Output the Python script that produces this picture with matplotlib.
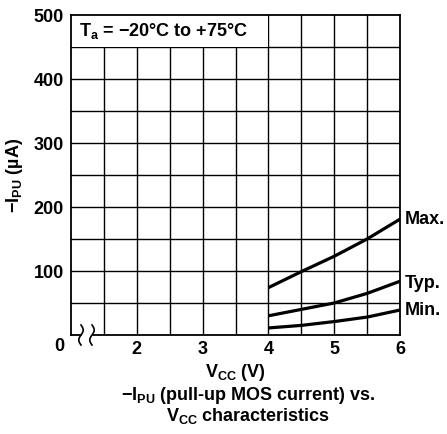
import matplotlib
matplotlib.use("Agg")
import matplotlib.pyplot as plt
import numpy as np

plt.rcParams['font.family'] = ['Liberation Sans', 'DejaVu Sans']
plt.rcParams['mathtext.fontset'] = 'custom'
plt.rcParams['mathtext.rm'] = 'Liberation Sans'
plt.rcParams['mathtext.bf'] = 'Liberation Sans:bold'

# Data
vcc = [4.0, 4.5, 5.0, 5.5, 6.0]
i_max = [74, 99, 123, 150, 181]
i_typ = [30, 40, 50, 65, 84]
i_min = [11, 15, 21, 28, 39]
curve_names = ["Max.", "Typ.", "Min."]
label_vals = [180, 81, 39]
xticks = [2, 3, 4, 5, 6]
yticks = [100, 200, 300, 400, 500]

FS = 13

fig = plt.figure(figsize=(4.47, 4.34), dpi=100)
ax = fig.add_axes([71/447, 1-335/434, 329/447, 320/434])
ax.set_xlim(1, 6)
ax.set_ylim(0, 500)

# grid
for x in np.arange(1.5, 6.0, 0.5):
    ax.axvline(x, color='black', lw=1.0, zorder=1)
for y in np.arange(50, 500, 50):
    ax.axhline(y, color='black', lw=1.0, zorder=1)

for s in ax.spines.values():
    s.set_linewidth(1.3)
    s.set_zorder(4)

for ys, name, lv in zip([i_max, i_typ, i_min], curve_names, label_vals):
    ax.plot(vcc, ys, color='black', lw=2.3, zorder=3, solid_capstyle='butt')
    ax.text(6.07, lv, name, fontsize=FS, fontweight='bold', va='center', ha='left',
            clip_on=False)

# condition box
ax.add_patch(plt.Rectangle((1, 450), 3, 50, facecolor='white', edgecolor='none', zorder=2))
ax.text(1.12, 475, r"T$_\mathbf{a}$ = −20°C to +75°C", fontsize=FS, fontweight='bold',
        va='center', ha='left', zorder=5)

ax.set_xticks(xticks)
ax.set_xticklabels([str(v) for v in xticks], fontsize=FS, fontweight='bold')
ax.set_yticks(yticks)
ax.set_yticklabels([str(v) for v in yticks], fontsize=FS, fontweight='bold')
ax.tick_params(length=0, pad=5)
ax.tick_params(axis='x', pad=4)
ax.text(-0.035, -0.036, "0", transform=ax.transAxes, fontsize=FS, fontweight='bold',
        ha='center', va='center')

ax.set_ylabel(r"−I$_\mathbf{PU}$ (µA)", fontsize=FS, fontweight='bold', labelpad=6)
ax.set_xlabel(r"V$_\mathbf{CC}$ (V)", fontsize=FS, fontweight='bold', labelpad=3)

fig.text(248/447, 1-395/434, r"−I$_\mathbf{PU}$ (pull-up MOS current) vs.", fontsize=FS,
         fontweight='bold', ha='center', va='center')
fig.text(248/447, 1-416/434, r"V$_\mathbf{CC}$ characteristics", fontsize=FS,
         fontweight='bold', ha='center', va='center')

# axis break symbol
tr = ax.transAxes
w = 1/329
h = 1/320
ax.plot([(83-71)*w, (90-71)*w], [0, 0], color='white', lw=2.5, transform=tr,
        clip_on=False, zorder=6)
t = np.linspace(0, 1, 40)
for cx in [81, 92]:
    xs = (cx - 71 + 2.2*np.sin(2*np.pi*t)) * w
    ys = (10 - 20*t) * h
    ax.plot(xs, ys, color='black', lw=1.2, transform=tr, clip_on=False, zorder=7)

fig.savefig("out.png", dpi=100)
